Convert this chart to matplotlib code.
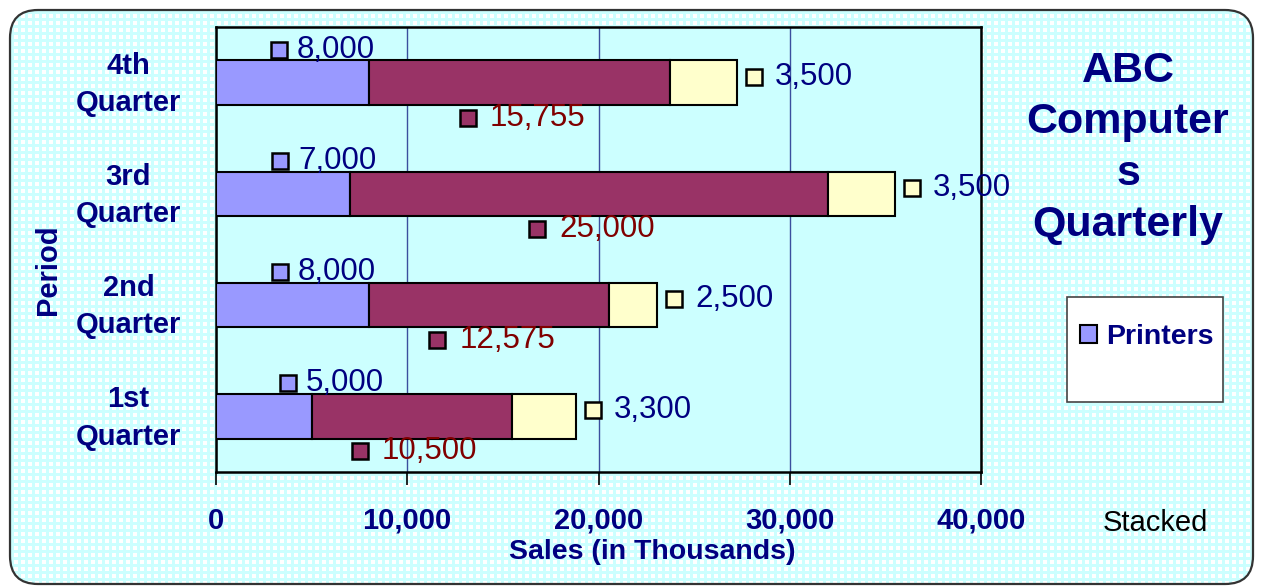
import numpy as np
import matplotlib
matplotlib.use("Agg")
import matplotlib.pyplot as plt
from matplotlib.patches import FancyBboxPatch, Rectangle
from matplotlib.transforms import offset_copy, Affine2D

# ---------------- data ----------------
categories = ["1st\nQuarter", "2nd\nQuarter", "3rd\nQuarter", "4th\nQuarter"]
printers = [5000, 8000, 7000, 8000]
computers = [10500, 12575, 25000, 15755]
other = [3300, 2500, 3500, 3500]
xticks = [0, 10000, 20000, 30000, 40000]

# ---------------- style ----------------
FONT = "Liberation Sans"
NAVY = "#000080"
MAROON = "#800000"
c_print, c_comp, c_other = "#9999ff", "#993366", "#ffffcc"

W, H, DPI = 1263, 586, 100
fig = plt.figure(figsize=(W / DPI, H / DPI), dpi=DPI)
fig.patch.set_facecolor("white")

# background: patterned rounded panel
bg = fig.add_axes([0, 0, 1, 1], zorder=-5)
bg.set_xlim(0, W); bg.set_ylim(H, 0); bg.axis("off")
yy, xx = np.mgrid[0:H, 0:W]
tex = np.ones((H, W, 3))
base = np.array([0xcc, 0xff, 0xff]) / 255.0
mask = ~((yy % 7 < 4) & (xx % 7 < 4))
tex[mask] = base
im = bg.imshow(tex, extent=(0, W, H, 0), interpolation="nearest", aspect="auto")
panel = FancyBboxPatch((10, 10), W - 20, H - 12, boxstyle="round,pad=0,rounding_size=28",
                       facecolor="none", edgecolor="#333333", linewidth=1.6)
bg.add_patch(panel)
im.set_clip_path(panel)

# main axes
L, R, T, B = 216, 981, 27, 472
ax = fig.add_axes([L / W, 1 - B / H, (R - L) / W, (B - T) / H])
ax.set_facecolor("#ccffff")

y = np.arange(len(categories))
hgt = 0.4
left2 = np.array(printers)
left3 = left2 + np.array(computers)
ax.barh(y, printers, height=hgt, color=c_print, edgecolor="black", linewidth=1.5, zorder=3, label="Printers")
ax.barh(y, computers, left=left2, height=hgt, color=c_comp, edgecolor="black", linewidth=1.5, zorder=3, label="Computers")
ax.barh(y, other, left=left3, height=hgt, color=c_other, edgecolor="black", linewidth=1.5, zorder=3, label="Other")

ax.set_xlim(0, 40000)
ax.set_ylim(-0.5, 3.5)
ax.set_xticks(xticks)
ax.set_xticklabels([f"{v:,}" for v in xticks], fontfamily=FONT, fontweight="bold",
                   fontsize=21, color=NAVY)
ax.set_yticks(y)
ax.tick_params(axis="x", direction="out", length=9, width=1.2, pad=16)
ax.tick_params(axis="y", length=0, pad=63)
ax.set_yticklabels(categories, fontfamily=FONT, fontweight="bold", fontsize=21,
                   color=NAVY, multialignment="center", ha="center", linespacing=1.42)
for lbl in ax.get_yticklabels():
    lbl.set_transform(lbl.get_transform() + Affine2D().translate(0, 6))
for s in ax.spines.values():
    s.set_color("black"); s.set_linewidth(1.8)
ax.grid(axis="x", color="#3b4f9e", linewidth=1.0, zorder=1)
ax.set_axisbelow(True)

# data labels
ms = 11.5
def label(xd, yd, dx_m, dx_t, dy, txt, mcolor, tcolor):
    tm = offset_copy(ax.transData, fig=fig, x=dx_m, y=dy, units="dots")
    tt = offset_copy(ax.transData, fig=fig, x=dx_t, y=dy, units="dots")
    ax.plot([xd], [yd], marker="s", markersize=ms, markerfacecolor=mcolor,
            markeredgecolor="black", markeredgewidth=1.8, transform=tm, zorder=5, clip_on=False)
    ax.text(xd, yd, txt, transform=tt, ha="left", va="center", fontfamily=FONT,
            fontsize=22.5, color=tcolor, zorder=6, clip_on=False)

printer_label_dx = [72, 64, 64, 63]
for i in range(len(categories)):
    label(0, y[i], printer_label_dx[i], printer_label_dx[i] + 18, 33,
          f"{printers[i]:,}", c_print, NAVY)
    label(printers[i] + computers[i] / 2, y[i], -52, -30, -35,
          f"{computers[i]:,}", c_comp, MAROON)
    label(left3[i] + other[i], y[i], 17, 38, 6, f"{other[i]:,}", c_other, NAVY)

# axis titles
fig.text(652 / W, 1 - 552 / H, "Sales (in Thousands)", ha="center", va="center",
         fontfamily=FONT, fontweight="bold", fontsize=20.5, color=NAVY)
fig.text(48 / W, 1 - 270 / H, "Period", ha="center", va="center", rotation=90,
         fontfamily=FONT, fontweight="bold", fontsize=21, color=NAVY)

# chart title
fig.text(1128 / W, 1 - 148 / H, "ABC\nComputer\ns\nQuarterly", ha="center", va="center",
         multialignment="center", fontfamily=FONT, fontweight="bold", fontsize=31,
         color=NAVY, linespacing=1.36)

fig.text(1155 / W, 1 - 523 / H, "Stacked", ha="center", va="center",
         fontfamily=FONT, fontsize=21, color="black")

# legend box
fig.patches.append(Rectangle((1067 / W, 1 - 402 / H), (1223 - 1067) / W, (402 - 297) / H,
                             transform=fig.transFigure, facecolor="white",
                             edgecolor="#444444", linewidth=1.2, zorder=1))
h, l = ax.get_legend_handles_labels()
leg = fig.legend([h[0]], [l[0]], loc="upper left", bbox_to_anchor=(1080 / W, 1 - 324 / H),
                 frameon=False, handlelength=0.6, handleheight=0.6, handletextpad=0.3,
                 borderaxespad=0, borderpad=0,
                 prop={"family": FONT, "weight": "bold", "size": 20.5})
for t in leg.get_texts():
    t.set_color(NAVY)

fig.savefig("out.png", dpi=DPI)
